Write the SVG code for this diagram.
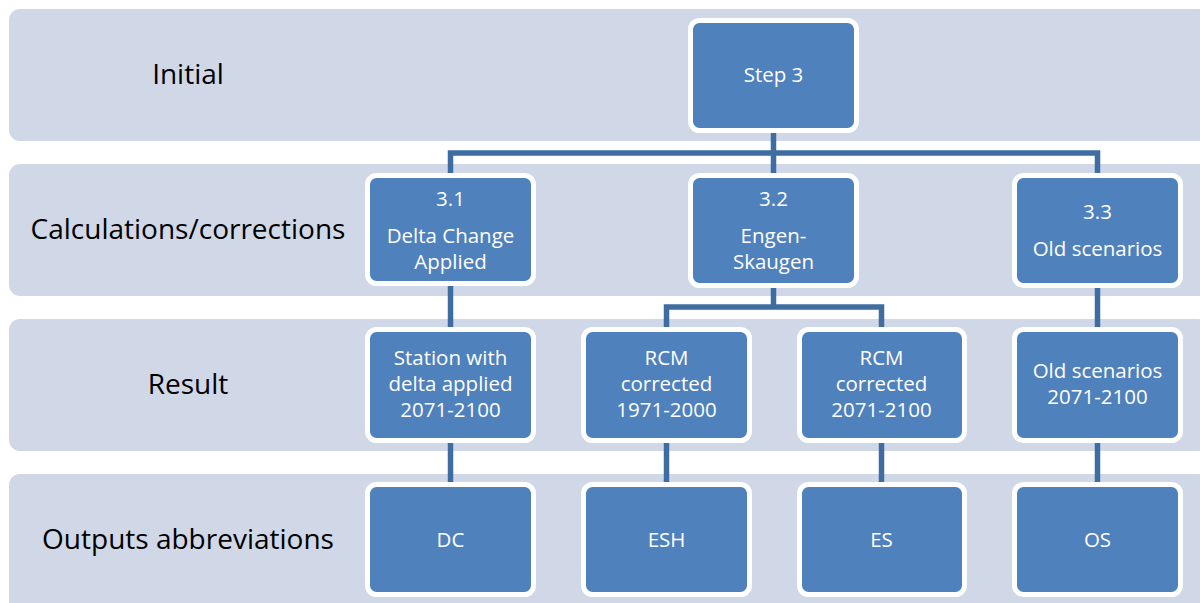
<svg xmlns="http://www.w3.org/2000/svg" width="1200" height="603" viewBox="0 0 1200 603">
<style>
.band{fill:#D0D8E7}
.node{fill:#4F81BD;stroke:#FFFFFF;stroke-width:5}
.lbl{font-family:"Open Sans","Liberation Sans",sans-serif;font-size:28px;fill:#000;text-anchor:middle}
.t{font-family:"Open Sans","Liberation Sans",sans-serif;font-size:20.5px;fill:#FFFFFF;text-anchor:middle}
.conn{fill:none;stroke:#3F6DA1;stroke-width:5.5;stroke-linejoin:miter}
</style>
<rect width="1200" height="603" fill="#FFFFFF"/>
<g id="bands">
<rect class="band" x="9" y="9" width="1200" height="132" rx="11"/>
<rect class="band" x="9" y="164" width="1200" height="132" rx="11"/>
<rect class="band" x="9" y="319" width="1200" height="132" rx="11"/>
<rect class="band" x="9" y="474" width="1200" height="140" rx="11"/>
<text class="lbl" x="188" y="84">Initial</text>
<text class="lbl" x="188" y="239">Calculations/corrections</text>
<text class="lbl" x="188" y="394">Result</text>
<text class="lbl" x="188" y="549">Outputs abbreviations</text>
</g>
<g id="connectors">
<line x1="448" y1="153" x2="1100" y2="153" stroke="#FFFFFF" stroke-width="13"/>
<line x1="664" y1="307" x2="885" y2="307" stroke="#FFFFFF" stroke-width="13"/>
<path class="conn" d="M773.5 131 V153"/>
<path class="conn" d="M450.5 175 V153 H1097.5 V175"/>
<path class="conn" d="M773.5 153 V175"/>
<path class="conn" d="M450.5 285 V329"/>
<path class="conn" d="M1097.5 285 V329"/>
<path class="conn" d="M773.5 285 V307"/>
<path class="conn" d="M666.5 329 V307 H881.5 V329"/>
<path class="conn" d="M450.5 441 V484"/>
<path class="conn" d="M666.5 441 V484"/>
<path class="conn" d="M881.5 441 V484"/>
<path class="conn" d="M1097.5 441 V484"/>
</g>
<g id="step3">
<rect class="node" x="690.5" y="20.5" width="166" height="110" rx="9"/>
<text class="t" x="773.5" y="82">Step 3</text>
</g>
<g id="n31">
<rect class="node" x="367.5" y="175.5" width="166" height="108" rx="9"/>
<text class="t" x="450.5" y="206">3.1</text>
<text class="t" x="450.5" y="243">Delta Change</text>
<text class="t" x="450.5" y="269">Applied</text>
</g>
<g id="n32">
<rect class="node" x="690.5" y="175.5" width="166" height="110" rx="9"/>
<text class="t" x="773.5" y="206">3.2</text>
<text class="t" x="773.5" y="243">Engen-</text>
<text class="t" x="773.5" y="269">Skaugen</text>
</g>
<g id="n33">
<rect class="node" x="1014.5" y="175.5" width="166" height="110" rx="9"/>
<text class="t" x="1097.5" y="219">3.3</text>
<text class="t" x="1097.5" y="256">Old scenarios</text>
</g>
<g id="station">
<rect class="node" x="367.5" y="329.5" width="166" height="111" rx="9"/>
<text class="t" x="450.5" y="365">Station with</text>
<text class="t" x="450.5" y="391">delta applied</text>
<text class="t" x="450.5" y="417">2071-2100</text>
</g>
<g id="rcm1971">
<rect class="node" x="583.5" y="329.5" width="166" height="111" rx="9"/>
<text class="t" x="666.5" y="365">RCM</text>
<text class="t" x="666.5" y="391">corrected</text>
<text class="t" x="666.5" y="417">1971-2000</text>
</g>
<g id="rcm2071">
<rect class="node" x="799.5" y="329.5" width="165" height="111" rx="9"/>
<text class="t" x="881.5" y="365">RCM</text>
<text class="t" x="881.5" y="391">corrected</text>
<text class="t" x="881.5" y="417">2071-2100</text>
</g>
<g id="oldscen">
<rect class="node" x="1014.5" y="329.5" width="166" height="111" rx="9"/>
<text class="t" x="1097.5" y="378">Old scenarios</text>
<text class="t" x="1097.5" y="404">2071-2100</text>
</g>
<g id="dc">
<rect class="node" x="367.5" y="484.5" width="166" height="110" rx="9"/>
<text class="t" x="450.5" y="547">DC</text>
</g>
<g id="esh">
<rect class="node" x="583.5" y="484.5" width="166" height="110" rx="9"/>
<text class="t" x="666.5" y="547">ESH</text>
</g>
<g id="es">
<rect class="node" x="799.5" y="484.5" width="165" height="110" rx="9"/>
<text class="t" x="881.5" y="547">ES</text>
</g>
<g id="os">
<rect class="node" x="1014.5" y="484.5" width="166" height="110" rx="9"/>
<text class="t" x="1097.5" y="547">OS</text>
</g>
</svg>
